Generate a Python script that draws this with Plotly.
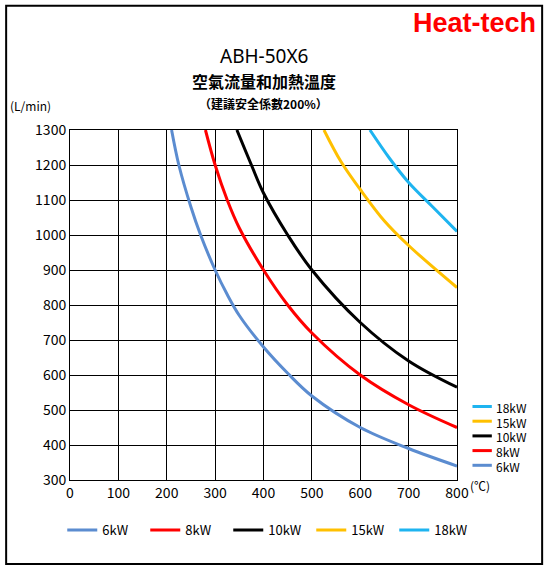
import plotly.graph_objects as go

series = ["6kW", "8kW", "10kW", "15kW", "18kW"]
colors = ["#5B8CD0", "#FF0000", "#000000", "#FFC000", "#1EB4F0"]
temps = [
    [210, 225, 250, 270, 300, 325, 350, 400, 450, 500, 600, 700, 800],
    [280, 300, 325, 350, 400, 450, 500, 600, 700, 800],
    [345, 375, 400, 450, 500, 600, 700, 800],
    [525, 560, 600, 650, 700, 800],
    [620, 660, 700, 750, 800],
]
flows = [
    [1300, 1200, 1080, 1000, 900, 830, 770, 680, 605, 540, 450, 390, 340],
    [1300, 1200, 1100, 1020, 900, 800, 720, 600, 515, 450],
    [1300, 1200, 1120, 1000, 900, 750, 640, 565],
    [1300, 1210, 1130, 1040, 970, 850],
    [1300, 1220, 1150, 1080, 1010],
]

fig = go.Figure()
for name, c, x, y in zip(series, colors, temps, flows):
    fig.add_trace(go.Scatter(x=x, y=y, name=name, mode="lines",
                             line=dict(color=c, width=3, shape="spline", smoothing=1)))

fig.update_layout(
    width=550, height=567, autosize=False, plot_bgcolor="white", paper_bgcolor="white",
    margin=dict(l=70, r=93, t=130, b=87),
    font=dict(family="Noto Sans CJK JP", size=14, color="black"),
    showlegend=True,
    legend=dict(orientation="h", x=-0.02, xanchor="left", y=-0.1, yanchor="top",
                font=dict(size=13), entrywidth=38, entrywidthmode="pixels",
                itemwidth=30, bgcolor="rgba(0,0,0,0)"),
    xaxis=dict(range=[0, 800], dtick=100, showgrid=True, gridcolor="black", gridwidth=1,
               showline=True, linecolor="black", mirror=True, zeroline=False, ticks=""),
    yaxis=dict(range=[300, 1300], dtick=100, showgrid=True, gridcolor="black", gridwidth=1,
               showline=True, linecolor="black", mirror=True, zeroline=False, ticks=""),
    shapes=[dict(type="rect", xref="paper", yref="paper", x0=-0.165, x1=1.22, y0=-0.24, y1=1.355,
                 line=dict(color="black", width=2))],
    annotations=[
        dict(text="ABH-50X6", x=0.5, y=1.255, xref="paper", yref="paper", showarrow=False,
             font=dict(size=19, family="Noto Sans")),
        dict(text="<b>空氣流量和加熱溫度</b>", x=0.5, y=1.18, xref="paper", yref="paper",
             showarrow=False, font=dict(size=16)),
        dict(text="<b>（建議安全係數200%）</b>", x=0.5, y=1.105, xref="paper", yref="paper",
             showarrow=False, font=dict(size=12)),
        dict(text="(L/min)", x=-0.16, y=1.1, xref="paper", yref="paper", xanchor="left",
             showarrow=False, font=dict(size=12)),
        dict(text="(℃)", x=1.09, y=-0.045, xref="paper", yref="paper",
             showarrow=False, font=dict(size=12)),
        dict(text="<b>Heat-tech</b>", x=1.21, y=1.355, xref="paper", yref="paper", xanchor="right",
             yanchor="top", showarrow=False,
             font=dict(size=27, color="#FF0000", family="Liberation Sans")),
    ],
)

# right-hand legend (reverse order)
for i, (name, c) in enumerate(zip(series[::-1], colors[::-1])):
    yy = 0.21 - i * 0.042
    fig.add_shape(type="line", xref="paper", yref="paper", x0=1.04, x1=1.09, y0=yy, y1=yy,
                  line=dict(color=c, width=3))
    fig.add_annotation(text=name, x=1.095, y=yy, xref="paper", yref="paper", xanchor="left",
                       yanchor="middle", yshift=-1, showarrow=False, font=dict(size=12))

fig.write_html("out.html", config={"displayModeBar": False},
               post_script="document.body.style.margin='0';")
